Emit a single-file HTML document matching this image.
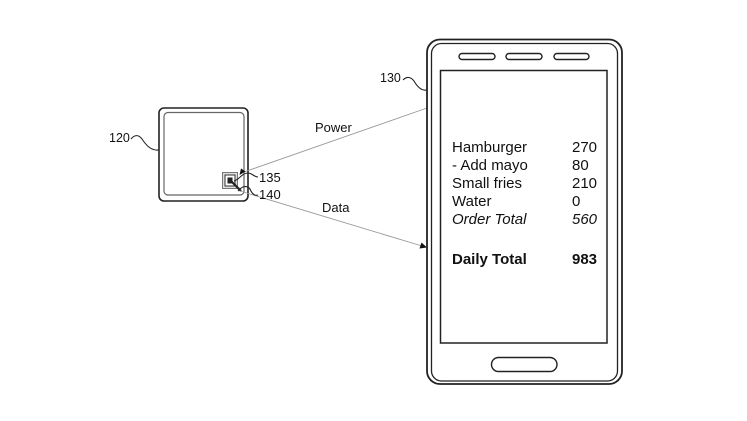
<!DOCTYPE html>
<html>
<head>
<meta charset="utf-8">
<style>
html,body{margin:0;padding:0;background:#fff;}
svg{display:block;}
text{font-family:"Liberation Sans",Arial,sans-serif;fill:#111;}
</style>
</head>
<body>
<svg width="747" height="421" viewBox="0 0 747 421" xmlns="http://www.w3.org/2000/svg">
  <rect width="747" height="421" fill="#fff"/>

  <!-- Device 120 -->
  <rect x="159" y="108" width="89" height="93" rx="5" fill="none" stroke="#222" stroke-width="1.6"/>
  <rect x="164" y="112.5" width="80" height="82.5" rx="4" fill="none" stroke="#666" stroke-width="1.2"/>

  <!-- chip 135 -->
  <rect x="222.5" y="172.5" width="15" height="16" fill="#ddd" stroke="#777" stroke-width="1"/>
  <rect x="225" y="175" width="10" height="11" fill="#fff" stroke="#333" stroke-width="1"/>
  <rect x="227.5" y="177.5" width="5" height="6" fill="#222"/>
  <line x1="231" y1="181" x2="241" y2="191" stroke="#222" stroke-width="2.2"/>

  <!-- Power line -->
  <line x1="427" y1="108" x2="244" y2="172" stroke="#999" stroke-width="0.9"/>
  <polygon points="239.5,175 241,168.5 245.5,171.5" fill="#111"/>

  <!-- Data line -->
  <line x1="240" y1="191" x2="422" y2="246" stroke="#999" stroke-width="0.9"/>
  <polygon points="427,247.5 419.5,248.5 421.5,242.5" fill="#111"/>

  <text x="315" y="132" font-size="13">Power</text>
  <text x="322" y="212" font-size="13">Data</text>

  <!-- labels -->
  <text x="109" y="142" font-size="12.5">120</text>
  <path d="M131,139 C135,134 139,135 142,139 C146,145 151,151 159,150" fill="none" stroke="#222" stroke-width="1.1"/>

  <text x="380" y="82" font-size="12.5">130</text>
  <path d="M403,80 C407,76 411,77 414,81 C418,88 422,91 427,90" fill="none" stroke="#222" stroke-width="1.1"/>

  <text x="259" y="182" font-size="13">135</text>
  <path d="M234,181 C240,179 242,173 248,173 C252,173 254,177 258,177" fill="none" stroke="#222" stroke-width="1.1"/>

  <text x="259" y="199" font-size="13">140</text>
  <path d="M238,191 C242,186 247,185 250,189 C252,194 255,196 258,195" fill="none" stroke="#222" stroke-width="1.1"/>

  <!-- Phone 130 -->
  <rect x="427" y="39.5" width="195" height="344.5" rx="13" fill="none" stroke="#222" stroke-width="1.8"/>
  <rect x="431.5" y="43.5" width="186" height="337.5" rx="10" fill="none" stroke="#222" stroke-width="1.3"/>
  <rect x="440.5" y="70.5" width="166.5" height="272.5" fill="none" stroke="#222" stroke-width="1.5"/>
  <rect x="459" y="53.5" width="36" height="6" rx="3" fill="none" stroke="#222" stroke-width="1.4"/>
  <rect x="506" y="53.5" width="36" height="6" rx="3" fill="none" stroke="#222" stroke-width="1.4"/>
  <rect x="554" y="53.5" width="35" height="6" rx="3" fill="none" stroke="#222" stroke-width="1.4"/>
  <rect x="491.5" y="357.5" width="65.5" height="14" rx="7" fill="none" stroke="#222" stroke-width="1.4"/>

  <!-- screen text -->
  <g font-size="15">
    <text x="452" y="152">Hamburger</text>
    <text x="572" y="152">270</text>
    <text x="452" y="170">- Add mayo</text>
    <text x="572" y="170">80</text>
    <text x="452" y="188">Small fries</text>
    <text x="572" y="188">210</text>
    <text x="452" y="206">Water</text>
    <text x="572" y="206">0</text>
    <text x="452" y="224" font-style="italic">Order Total</text>
    <text x="572" y="224" font-style="italic">560</text>
    <text x="452" y="264" font-weight="bold">Daily Total</text>
    <text x="572" y="264" font-weight="bold">983</text>
  </g>
</svg>
</body>
</html>
